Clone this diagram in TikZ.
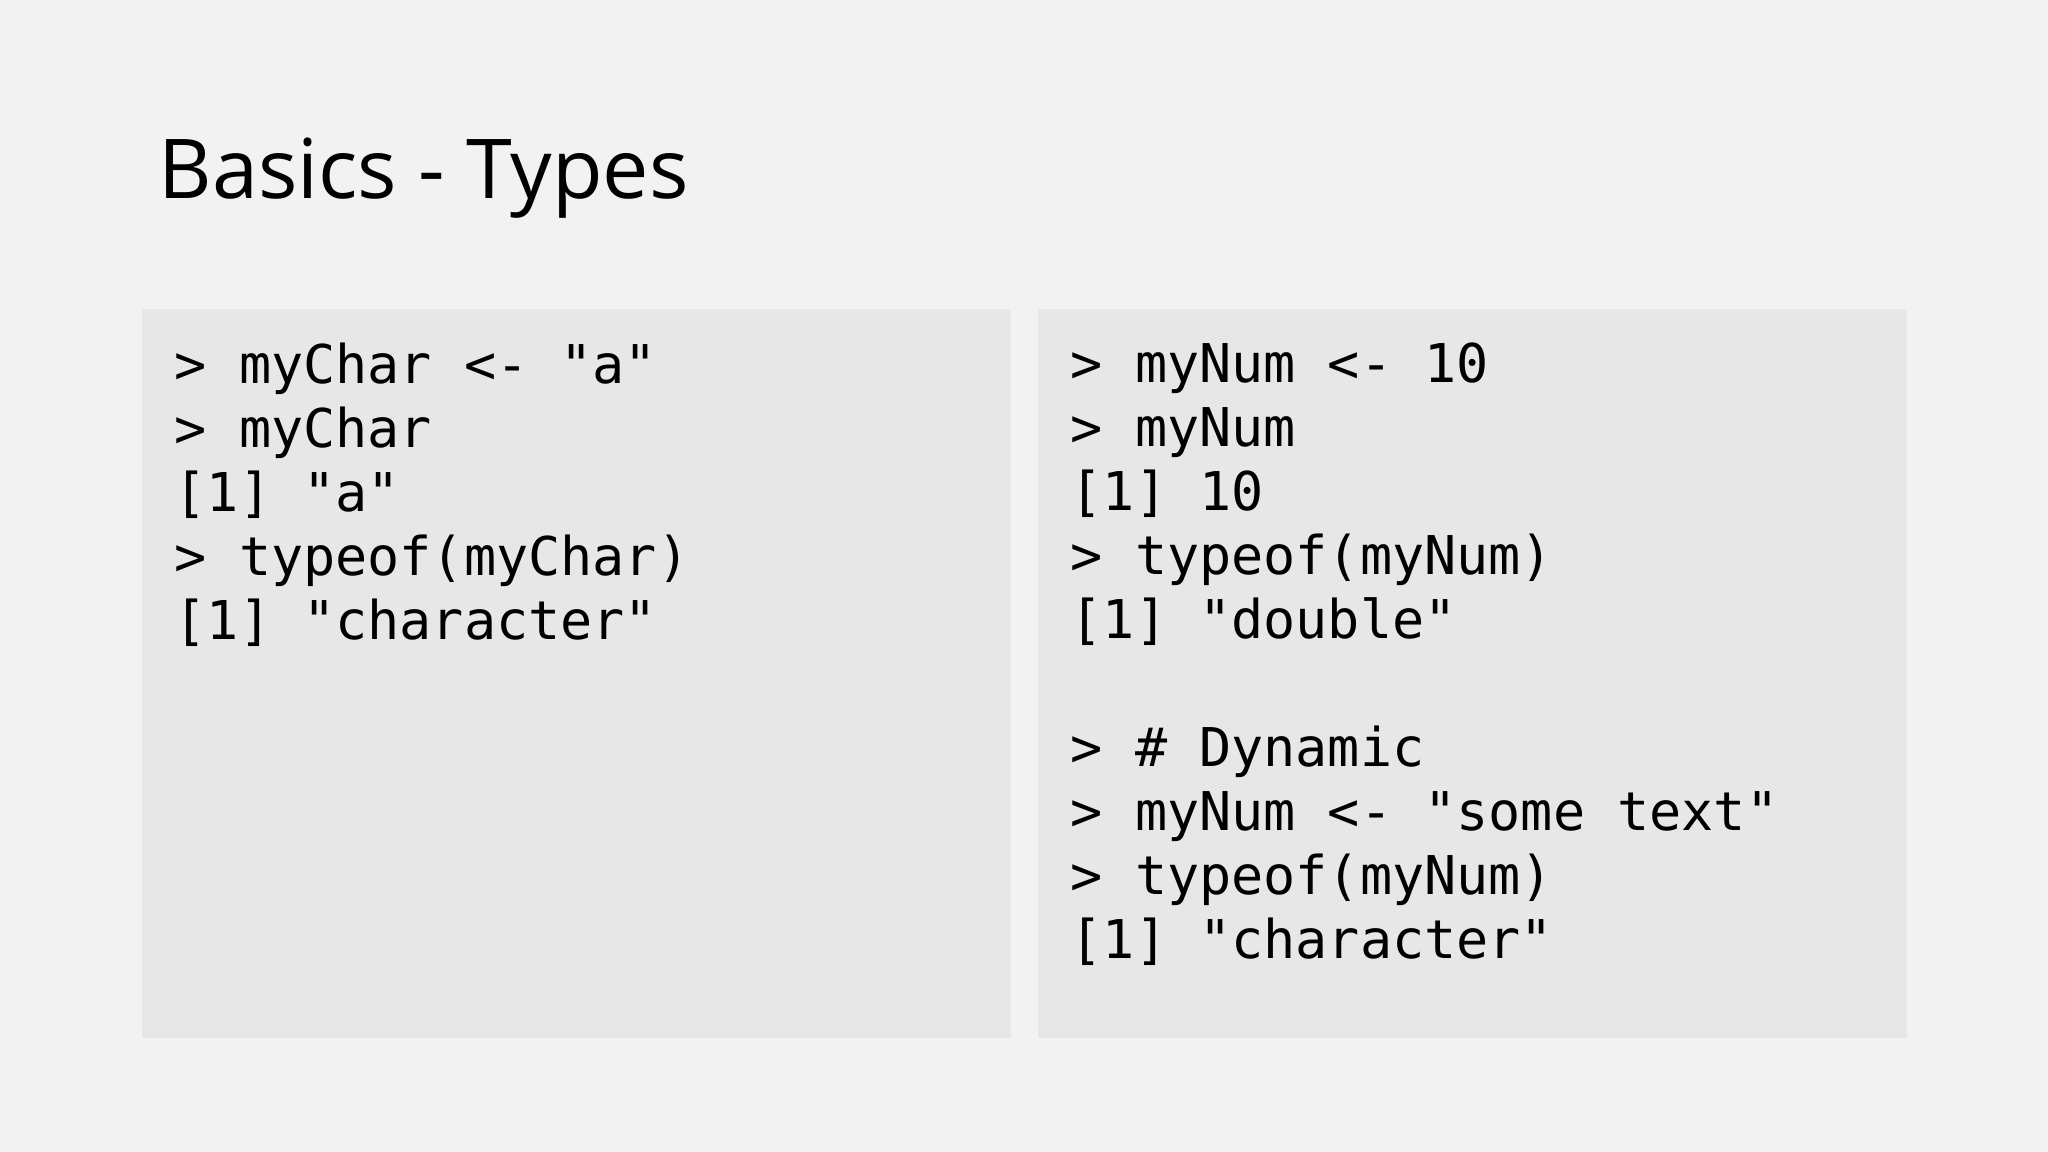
\documentclass[tikz,border=0pt]{standalone}
\usepackage{fontspec}
\setmainfont{Open Sans}
\setmonofont{DejaVu Sans Mono}
\usetikzlibrary{positioning}
\definecolor{slidebg}{HTML}{F2F2F2}
\definecolor{codebg}{HTML}{E7E7E7}
\tikzset{
  codebox/.style={fill=codebg,draw=none,minimum width=8.69cm,minimum height=7.29cm,anchor=north west,inner sep=0pt},
  codetext/.style={anchor=north west,align=left,inner sep=0pt,font=\ttfamily\fontsize{15.2}{18.2}\selectfont}
}
\begin{document}
\begin{tikzpicture}
\fill[slidebg] (0,0) rectangle (20.48,-11.52);
\useasboundingbox (0,0) rectangle (20.48,-11.52);
\node[anchor=base west,inner sep=0pt,font=\fontsize{23.5}{28}\selectfont] (title) at (1.58,-1.99) {Basics - Types};
\node[codebox] (leftbox) at (1.41,-3.08) {};
\node[codebox] (rightbox) at (10.37,-3.08) {};
\node[codetext] (leftcode) at (1.74,-3.42) {> myChar <- "a"\\> myChar\\{[1]} "a"\\> typeof(myChar)\\{[1]} "character"};
\node[codetext] (rightcode) at (10.70,-3.42) {> myNum <- 10\\> myNum\\{[1]} 10\\> typeof(myNum)\\{[1]} "double"\\\mbox{}\\> \# Dynamic\\> myNum <- "some text"\\> typeof(myNum)\\{[1]} "character"};
\end{tikzpicture}
\end{document}
